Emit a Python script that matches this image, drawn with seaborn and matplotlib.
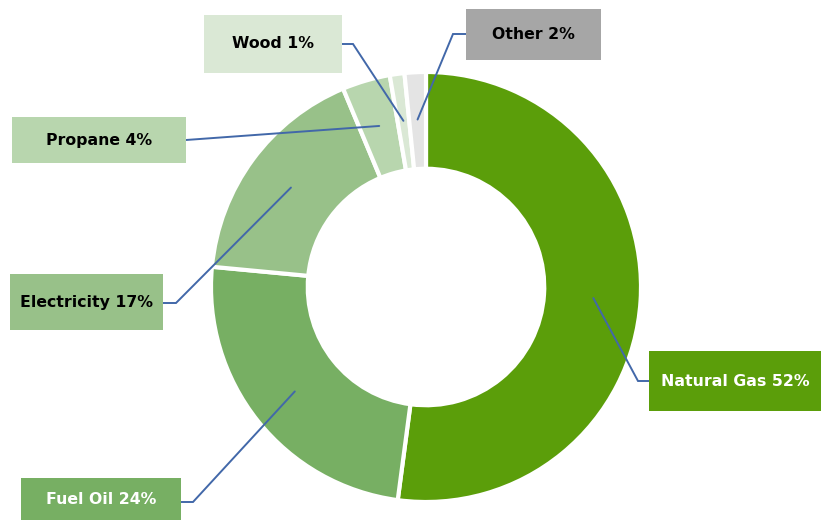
import numpy as np
import matplotlib
matplotlib.use("Agg")
import matplotlib.pyplot as plt
from matplotlib.patches import Rectangle
import seaborn as sns

categories = ["Natural Gas", "Fuel Oil", "Electricity", "Propane", "Wood", "Other"]
values = [52.1, 24.4, 17.2, 3.6, 1.1, 1.6]
slice_colors = ["#5B9E0A", "#77AF63", "#98C189", "#B8D6AE", "#DAE8D5", "#E4E4E4"]
box_colors = ["#5B9E0A", "#77AF63", "#98C189", "#B8D6AE", "#DAE8D5", "#A6A6A6"]
text_colors = ["white", "white", "black", "black", "black", "black"]

# layout (pixel coords, y from top)
W, H = 821, 523
center_px = (426, 287)
radius_px = 215
# box: (x0, y0, x1, y1)
boxes = [(649, 351, 821, 411), (21, 478, 181, 520), (10, 274, 163, 330),
         (12, 117, 186, 163), (204, 15, 342, 73), (466, 9, 601, 60)]
# elbow points (px) between box edge and slice anchor
elbows = [[(649, 381), (638, 381)], [(181, 502), (193, 502)], [(163, 303), (176, 303)],
          [(186, 140)], [(342, 44), (353, 44)], [(466, 34), (453, 34)]]

sns.set_theme(style="white")
plt.rcParams["font.family"] = ["DejaVu Sans"]

fig = plt.figure(figsize=(W / 100, H / 100), dpi=100)
ax = fig.add_axes([0, 0, 1, 1])

cx, cy = center_px[0], H - center_px[1]
wedges, _ = ax.pie(values, colors=slice_colors, startangle=90, counterclock=False,
                   radius=radius_px, center=(cx, cy),
                   wedgeprops=dict(width=radius_px * 0.45, edgecolor="white", linewidth=3))
ax.set_xlim(0, W)
ax.set_ylim(0, H)
ax.set_aspect("auto")
ax.axis("off")

total = sum(values)
cum = 0
for i, (cat, v) in enumerate(zip(categories, values)):
    mid = 90 - (cum + v / 2) / total * 360
    cum += v
    ax_x = cx + 0.78 * radius_px * np.cos(np.radians(mid))
    ax_y = cy + 0.78 * radius_px * np.sin(np.radians(mid))
    pts = [(x, H - y) for x, y in elbows[i]] + [(ax_x, ax_y)]
    xs, ys = zip(*pts)
    ax.plot(xs, ys, color="#4268A9", lw=1.4, solid_joinstyle="miter", zorder=3)
    x0, y0, x1, y1 = boxes[i]
    ax.add_patch(Rectangle((x0, H - y1), x1 - x0, y1 - y0, facecolor=box_colors[i],
                           edgecolor="none", zorder=4))
    ax.text((x0 + x1) / 2, H - (y0 + y1) / 2, f"{cat} {v / total * 100:.0f}%",
            ha="center", va="center", fontsize=11.3, fontweight="bold",
            color=text_colors[i], zorder=5)

fig.savefig("out.png", dpi=100)
